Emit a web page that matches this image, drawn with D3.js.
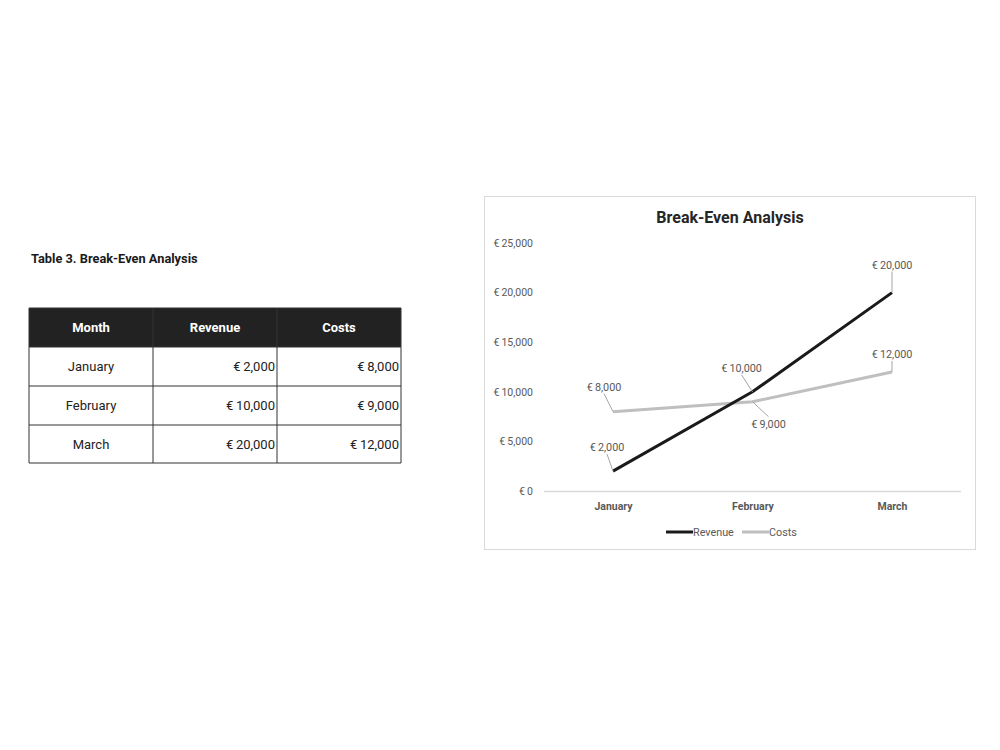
<!DOCTYPE html>
<html>
<head>
<meta charset="utf-8">
<script src="https://cdn.jsdelivr.net/npm/d3@7"></script>
<style>
  body { margin: 0; background: #fff; }
  text { font-family: Roboto, "Noto Sans", sans-serif; }
</style>
</head>
<body>
<div id="page"></div>
<script>
// data
var months = ["January", "February", "March"];
var revenue = [2000, 10000, 20000];
var costs = [8000, 9000, 12000];
var yTicks = [0, 5000, 10000, 15000, 20000, 25000];
var tableHeaders = ["Month", "Revenue", "Costs"];

var euro = function (v) { return "€\u2009" + d3.format(",")(v); };

var svg = d3.select("#page").append("svg")
    .attr("width", 1000)
    .attr("height", 750);

// ---- table on the left ----
svg.append("text")
    .attr("x", 31).attr("y", 263)
    .attr("font-size", 12.8).attr("font-weight", "bold").attr("fill", "#1a1a1a")
    .text("Table 3. Break-Even Analysis");

var colEdges = [29, 153, 277, 401];
var rowEdges = [308, 347, 386, 425, 463];
var rows = months.map(function (m, i) { return [m, euro(revenue[i]), euro(costs[i])]; });

var table = svg.append("g");
table.append("rect")
    .attr("x", colEdges[0]).attr("y", rowEdges[0])
    .attr("width", colEdges[3] - colEdges[0]).attr("height", rowEdges[1] - rowEdges[0])
    .attr("fill", "#222");

// header text
tableHeaders.forEach(function (h, c) {
    table.append("text")
        .attr("x", (colEdges[c] + colEdges[c + 1]) / 2)
        .attr("y", (rowEdges[0] + rowEdges[1]) / 2 + 4.5)
        .attr("text-anchor", "middle")
        .attr("font-size", 13).attr("font-weight", "bold").attr("fill", "#fff")
        .text(h);
});

// body cells
rows.forEach(function (r, i) {
    var cy = (rowEdges[i + 1] + rowEdges[i + 2]) / 2 + 4.5;
    r.forEach(function (val, c) {
        table.append("text")
            .attr("x", c === 0 ? (colEdges[0] + colEdges[1]) / 2 : colEdges[c + 1] - 2)
            .attr("y", cy)
            .attr("text-anchor", c === 0 ? "middle" : "end")
            .attr("font-size", 13).attr("fill", "#222")
            .text(val);
    });
});

// grid lines of table
rowEdges.forEach(function (y) {
    table.append("line").attr("x1", colEdges[0]).attr("x2", colEdges[3])
        .attr("y1", y).attr("y2", y).attr("stroke", "#333").attr("stroke-width", 1);
});
colEdges.forEach(function (x) {
    table.append("line").attr("x1", x).attr("x2", x)
        .attr("y1", rowEdges[0]).attr("y2", rowEdges[4]).attr("stroke", "#333").attr("stroke-width", 1);
});

// ---- chart on the right ----
svg.append("rect")
    .attr("x", 484.5).attr("y", 196.5).attr("width", 491).attr("height", 353)
    .attr("fill", "#fff").attr("stroke", "#d9d9d9");

svg.append("text")
    .attr("x", 730).attr("y", 222.5)
    .attr("text-anchor", "middle")
    .attr("font-size", 16).attr("font-weight", "bold").attr("fill", "#262626")
    .text("Break-Even Analysis");

var x = d3.scalePoint().domain(months).range([613, 892]);
var y = d3.scaleLinear().domain([0, 25000]).range([491, 243]);

// y axis labels (no axis line)
var yAxis = d3.axisLeft(y).tickValues(yTicks).tickFormat(euro).tickSize(0).tickPadding(0);
svg.append("g").attr("transform", "translate(533,0)").call(yAxis)
    .call(function (g) { g.select(".domain").remove(); })
    .call(function (g) {
        g.selectAll("text").attr("font-size", 10.5).attr("fill", "#595959")
            .attr("font-family", "Roboto, sans-serif");
    });

// x axis
svg.append("line").attr("x1", 544).attr("x2", 961).attr("y1", 491.5).attr("y2", 491.5)
    .attr("stroke", "#d9d9d9").attr("stroke-width", 1.5);
var xAxis = d3.axisBottom(x).tickSize(0).tickPadding(0);
svg.append("g").attr("transform", "translate(0,502.5)").call(xAxis)
    .call(function (g) { g.select(".domain").remove(); })
    .call(function (g) {
        g.selectAll("text").attr("font-size", 10.5).attr("font-weight", "bold").attr("fill", "#595959")
            .attr("font-family", "Roboto, sans-serif");
    });

var series = [
    { name: "Revenue", values: revenue, color: "#1a1a1a" },
    { name: "Costs", values: costs, color: "#bfbfbf" }
];

var line = d3.line()
    .x(function (d, i) { return x(months[i]); })
    .y(function (d) { return y(d); });

// draw costs first so revenue sits on top
series.slice().reverse().forEach(function (s) {
    svg.append("path")
        .datum(s.values)
        .attr("d", line)
        .attr("fill", "none")
        .attr("stroke", s.color)
        .attr("stroke-width", 3)
        .attr("stroke-linejoin", "round");
});

// data labels with leader lines (offsets in px from the point)
var labelOffsets = {
    Revenue: [[-6, -20], [-11, -20], [0, -24]],
    Costs: [[-9, -21], [16, 26], [0, -14]]
};
series.forEach(function (s) {
    s.values.forEach(function (v, i) {
        var px = x(months[i]), py = y(v);
        var off = labelOffsets[s.name][i];
        var lx = px + off[0], ly = py + off[1];
        var above = off[1] < 0;
        var leadEndY = above ? ly + 3 : ly - 11;
        svg.append("line")
            .attr("x1", px).attr("y1", py)
            .attr("x2", lx).attr("y2", leadEndY)
            .attr("stroke", "#a6a6a6").attr("stroke-width", 1);
        svg.append("text")
            .attr("x", lx).attr("y", ly)
            .attr("text-anchor", "middle")
            .attr("font-size", 10.8).attr("fill", "#595959")
            .text(euro(v));
    });
});

// legend
var legend = svg.append("g");
var legendPos = [666, 742];
series.forEach(function (s, i) {
    legend.append("line")
        .attr("x1", legendPos[i]).attr("x2", legendPos[i] + 27)
        .attr("y1", 532).attr("y2", 532)
        .attr("stroke", s.color).attr("stroke-width", 3);
    legend.append("text")
        .attr("x", legendPos[i] + 27).attr("y", 535.5)
        .attr("font-size", 10.8).attr("fill", "#595959")
        .text(s.name);
});
</script>
</body>
</html>
